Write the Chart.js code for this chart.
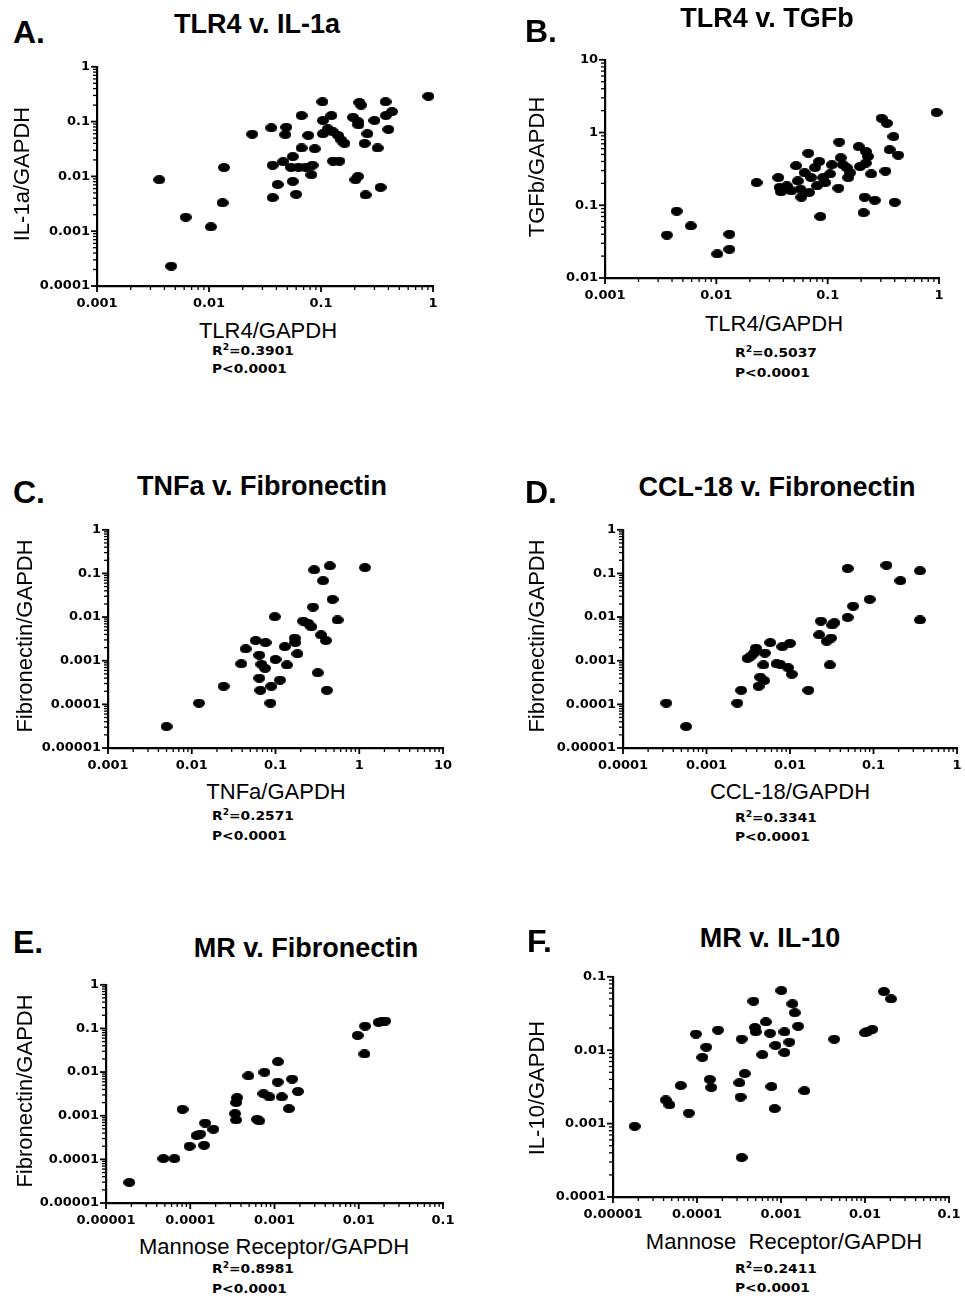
<!DOCTYPE html>
<html>
<head>
<meta charset="utf-8">
<script src="https://cdn.jsdelivr.net/npm/chart.js@4.4.1/dist/chart.umd.min.js"></script>
<style>
  html, body { margin: 0; padding: 0; background: #fff; width: 965px; height: 1298px; overflow: hidden; }
  #fig { position: relative; width: 965px; height: 1298px; overflow: hidden; }
  #fig canvas { position: absolute; }
  .t { position: absolute; white-space: pre; color: #000; font-family: "Liberation Sans", Arial, sans-serif; line-height: 1; }
  .letter { font-size: 32px; font-weight: bold; }
  .title { font-size: 27px; font-weight: bold; transform: translateX(-50%); }
  .xl { font-size: 22px; transform: translateX(-50%); }
  .yl { font-size: 22px; transform: translate(-50%, -50%) rotate(-90deg); }
  .stat { font-family: "DejaVu Sans", sans-serif; font-size: 12px; font-weight: bold; transform-origin: 0 0; transform: scaleX(1.15); }
  .stat sup { font-size: 8px; position: relative; top: -1px; vertical-align: top; line-height: 1; }
</style>
</head>
<body>
<div id="fig"></div>
<script>
// ---- A. TLR4 v. IL-1a ----
const tlr4_A = [0.0036,0.0046,0.0062,0.0104,0.0132,0.0136,0.0243,0.036,0.037,0.037,0.041,0.046,0.048,0.049,0.056,0.056,0.054,0.060,0.063,0.067,0.067,0.073,0.077,0.082,0.084,0.088,0.103,0.104,0.104,0.115,0.124,0.128,0.128,0.142,0.146,0.152,0.162,0.193,0.203,0.214,0.214,0.22,0.228,0.216,0.245,0.25,0.26,0.30,0.32,0.34,0.377,0.40,0.38,0.43,0.91];
const il1a_A = [0.0087,0.00023,0.0018,0.0012,0.0033,0.0145,0.059,0.077,0.0041,0.016,0.0071,0.0186,0.058,0.079,0.0081,0.023,0.0146,0.0047,0.0147,0.129,0.033,0.0147,0.056,0.0107,0.016,0.032,0.23,0.105,0.060,0.074,0.129,0.019,0.065,0.056,0.019,0.046,0.040,0.12,0.0087,0.10,0.010,0.224,0.20,0.087,0.040,0.0046,0.060,0.105,0.033,0.0063,0.23,0.072,0.129,0.152,0.29];
const xTicks_A = ['0.001','0.01','0.1','1'];
const yTicks_A = ['0.0001','0.001','0.01','0.1','1'];

// ---- B. TLR4 v. TGFb ----
const tlr4_B = [0.0036,0.0044,0.0059,0.0102,0.0131,0.0131,0.023,0.036,0.037,0.038,0.043,0.047,0.052,0.054,0.057,0.058,0.062,0.067,0.068,0.071,0.077,0.080,0.084,0.086,0.091,0.095,0.105,0.109,0.125,0.127,0.131,0.137,0.148,0.153,0.159,0.19,0.195,0.21,0.215,0.22,0.22,0.23,0.246,0.265,0.305,0.33,0.34,0.39,0.36,0.40,0.43,0.95];
const tgfb_B = [0.039,0.083,0.052,0.0214,0.0248,0.040,0.205,0.24,0.176,0.153,0.185,0.158,0.35,0.216,0.167,0.129,0.28,0.52,0.150,0.24,0.33,0.185,0.40,0.070,0.24,0.205,0.27,0.36,0.172,0.74,0.45,0.36,0.33,0.24,0.28,0.64,0.34,0.079,0.129,0.38,0.55,0.47,0.27,0.117,1.57,0.295,1.34,0.88,0.58,0.110,0.49,1.89];
const xTicks_B = ['0.001','0.01','0.1','1'];
const yTicks_B = ['0.01','0.1','1','10'];

// ---- C. TNFa v. Fibronectin ----
const tnfa_C = [0.0050,0.0122,0.024,0.039,0.044,0.058,0.064,0.064,0.066,0.068,0.075,0.076,0.087,0.089,0.098,0.100,0.113,0.129,0.137,0.170,0.172,0.183,0.214,0.245,0.268,0.28,0.29,0.32,0.35,0.37,0.40,0.41,0.445,0.48,0.55,1.17];
const fn_C = [0.000031,0.000107,0.00026,0.00085,0.00187,0.0029,0.00134,0.00040,0.00021,0.00083,0.00067,0.0026,0.000107,0.00026,0.0102,0.00107,0.00036,0.0021,0.00080,0.0033,0.0026,0.00144,0.0081,0.0072,0.0060,0.017,0.121,0.00053,0.0039,0.068,0.0029,0.00021,0.149,0.0255,0.0086,0.136];
const xTicks_C = ['0.001','0.01','0.1','1','10'];
const yTicks_C = ['0.00001','0.0001','0.001','0.01','0.1','1'];

// ---- D. CCL-18 v. Fibronectin ----
const ccl18_D = [0.00033,0.00057,0.00234,0.0026,0.0031,0.0034,0.0037,0.0039,0.0042,0.0044,0.0048,0.0049,0.0050,0.0058,0.0069,0.0076,0.0081,0.0095,0.010,0.0105,0.0166,0.0224,0.0234,0.0275,0.030,0.031,0.032,0.034,0.049,0.049,0.057,0.090,0.143,0.21,0.36,0.36];
const fn_D = [0.000107,0.000031,0.000107,0.00021,0.00113,0.00128,0.0015,0.00195,0.00026,0.00042,0.00080,0.00035,0.0015,0.0026,0.00085,0.00083,0.0021,0.00069,0.0025,0.00049,0.00021,0.0039,0.0081,0.0028,0.00080,0.0033,0.0066,0.0074,0.0098,0.130,0.0178,0.0255,0.154,0.068,0.115,0.0086];
const xTicks_D = ['0.0001','0.001','0.01','0.1','1'];
const yTicks_D = ['0.00001','0.0001','0.001','0.01','0.1','1'];

// ---- E. MR v. Fibronectin ----
const mr_E = [0.0000189,0.000048,0.000065,0.000081,0.000098,0.000119,0.000131,0.000146,0.00015,0.000188,0.00034,0.00035,0.00035,0.00036,0.00049,0.00062,0.00066,0.00074,0.00076,0.00087,0.00109,0.0011,0.00122,0.00148,0.00162,0.0019,0.0097,0.0117,0.0119,0.0172,0.0186,0.0206];
const fn_E = [0.0000296,0.000104,0.000104,0.0014,0.00020,0.00035,0.00038,0.00021,0.00068,0.00049,0.00112,0.0008,0.0020,0.0026,0.0082,0.00083,0.00076,0.0032,0.0099,0.0027,0.0059,0.0173,0.0027,0.00145,0.0069,0.0036,0.069,0.026,0.113,0.138,0.144,0.148];
const xTicks_E = ['0.00001','0.0001','0.001','0.01','0.1'];
const yTicks_E = ['0.00001','0.0001','0.001','0.01','0.1','1'];

// ---- F. MR v. IL-10 ----
const mr_F = [0.0000181,0.0000425,0.000047,0.000064,0.00008,0.000097,0.000116,0.000129,0.000142,0.000148,0.000178,0.00032,0.00033,0.00034,0.00034,0.00037,0.00047,0.00049,0.0005,0.00060,0.00066,0.00074,0.00077,0.00084,0.00086,0.00101,0.0011,0.0011,0.00126,0.00137,0.00146,0.0016,0.0019,0.0043,0.0100,0.0109,0.0122,0.0168,0.0204];
const il10_F = [0.00092,0.0021,0.0018,0.0033,0.00139,0.0166,0.0080,0.011,0.0040,0.0031,0.0188,0.0036,0.0023,0.0142,0.000345,0.0048,0.0466,0.0204,0.0178,0.0087,0.0243,0.0170,0.0032,0.0016,0.0116,0.065,0.0178,0.0093,0.0129,0.0428,0.0324,0.0212,0.0028,0.0141,0.0173,0.0182,0.0192,0.063,0.050];
const xTicks_F = ['0.00001','0.0001','0.001','0.01','0.1'];
const yTicks_F = ['0.0001','0.001','0.01','0.1'];

const fig = document.getElementById('fig');

// Filled, slightly wide dot used for every data point
const marker = document.createElement('canvas');
marker.width = 12; marker.height = 9;
(function () {
  const m = marker.getContext('2d');
  m.fillStyle = '#000';
  m.beginPath();
  m.ellipse(6, 4.5, 6, 4.5, 0, 0, Math.PI * 2);
  m.fill();
})();

// Decade ticks plus the 2..9 minor ticks between them
function buildLogTicks(decades) {
  const out = [];
  decades.forEach((d, i) => {
    out.push({ value: d, major: true });
    if (i < decades.length - 1) {
      for (let m = 2; m <= 9; m++) out.push({ value: +(d * m).toPrecision(6), major: false });
    }
  });
  return out;
}

// Outward tick marks: long at decades, short in between
const tickMarks = {
  id: 'tickMarks',
  afterDraw(chart) {
    const ctx = chart.ctx;
    const xs = chart.scales.x, ys = chart.scales.y;
    ctx.save();
    ctx.strokeStyle = '#000';
    xs.ticks.forEach(t => {
      const px = xs.getPixelForValue(t.value);
      ctx.lineWidth = t.major ? 1.8 : 1.3;
      ctx.beginPath();
      ctx.moveTo(px, xs.top);
      ctx.lineTo(px, xs.top + (t.major ? 6 : 4));
      ctx.stroke();
    });
    ys.ticks.forEach(t => {
      const py = ys.getPixelForValue(t.value);
      ctx.lineWidth = t.major ? 1.8 : 1.3;
      ctx.beginPath();
      ctx.moveTo(ys.right, py);
      ctx.lineTo(ys.right - (t.major ? 6 : 4), py);
      ctx.stroke();
    });
    ctx.restore();
  }
};

function logAxis(labels, axis, size) {
  const decades = labels.map(Number);
  return {
    type: 'logarithmic',
    position: axis === 'x' ? 'bottom' : 'left',
    min: decades[0],
    max: decades[decades.length - 1],
    grid: { display: false, drawTicks: false, tickLength: 0 },
    border: { display: true, color: '#000', width: 2.2 },
    ticks: {
      autoSkip: false, maxRotation: 0, minRotation: 0,
      color: '#000',
      padding: axis === 'x' ? 10 : 7,
      font: { family: "'DejaVu Sans', sans-serif", size: 13, weight: 'bold' },
      callback: (v, i, ticks) => {
        if (!ticks[i].major) return '';
        const k = decades.indexOf(v);
        return k >= 0 ? labels[k] : '';
      }
    },
    afterBuildTicks: s => { s.ticks = buildLogTicks(decades); },
    afterFit: s => { if (axis === 'x') s.height = size; else s.width = size; }
  };
}

function makePanel(p) {
  // W: room for the y axis, H: room for the x axis, PT/PR: margins above and right
  const W = 80, H = 30, PT = 12, PR = 26;
  const a = p.area;
  const w = W + (a.r - a.l) + PR;
  const h = PT + (a.b - a.t) + H;
  const cv = document.createElement('canvas');
  cv.width = w; cv.height = h;
  cv.style.left = (a.l - W) + 'px';
  cv.style.top = (a.t - PT) + 'px';
  cv.style.width = w + 'px';
  cv.style.height = h + 'px';
  fig.appendChild(cv);
  new Chart(cv, {
    type: 'scatter',
    data: {
      datasets: [{
        data: p.xs.map((v, i) => ({ x: v, y: p.ys[i] })),
        pointStyle: marker,
        pointRadius: 5,
        backgroundColor: '#000',
        borderColor: '#000',
        clip: false
      }]
    },
    options: {
      responsive: false,
      animation: false,
      events: [],
      layout: { padding: { top: PT, right: PR, left: 0, bottom: 0 } },
      plugins: { legend: { display: false }, tooltip: { enabled: false } },
      scales: {
        x: logAxis(p.xTicks, 'x', H),
        y: logAxis(p.yTicks, 'y', W)
      }
    },
    plugins: [tickMarks]
  });
}

const panels = [
  { xs: tlr4_A,  ys: il1a_A, xTicks: xTicks_A, yTicks: yTicks_A, area: { l: 97,  r: 433, t: 64,  b: 286 } },
  { xs: tlr4_B,  ys: tgfb_B, xTicks: xTicks_B, yTicks: yTicks_B, area: { l: 605, r: 939, t: 57,  b: 278 } },
  { xs: tnfa_C,  ys: fn_C,   xTicks: xTicks_C, yTicks: yTicks_C, area: { l: 108, r: 443, t: 527, b: 748 } },
  { xs: ccl18_D, ys: fn_D,   xTicks: xTicks_D, yTicks: yTicks_D, area: { l: 623, r: 957, t: 527, b: 748 } },
  { xs: mr_E,    ys: fn_E,   xTicks: xTicks_E, yTicks: yTicks_E, area: { l: 106, r: 443, t: 982, b: 1203 } },
  { xs: mr_F,    ys: il10_F, xTicks: xTicks_F, yTicks: yTicks_F, area: { l: 613, r: 949, t: 974, b: 1197 } }
];
panels.forEach(makePanel);

// Panel letters, titles, axis titles and regression statistics
const sizes = { letter: 32, title: 27, xl: 22, stat: 12 };
const texts = [
  { c: 'letter', s: 'A.', x: 13,  b: 43 },
  { c: 'title',  s: 'TLR4 v. IL-1a', x: 257, b: 34 },
  { c: 'yl',     s: 'IL-1a/GAPDH', x: 22, y: 174 },
  { c: 'xl',     s: 'TLR4/GAPDH', x: 268, b: 339 },
  { c: 'stat',   h: 'R<sup>2</sup>=0.3901', x: 212, b: 355 },
  { c: 'stat',   s: 'P<0.0001', x: 212, b: 373 },

  { c: 'letter', s: 'B.', x: 525, b: 42 },
  { c: 'title',  s: 'TLR4 v. TGFb', x: 767, b: 28 },
  { c: 'yl',     s: 'TGFb/GAPDH', x: 537, y: 167 },
  { c: 'xl',     s: 'TLR4/GAPDH', x: 774, b: 332 },
  { c: 'stat',   h: 'R<sup>2</sup>=0.5037', x: 735, b: 357 },
  { c: 'stat',   s: 'P<0.0001', x: 735, b: 377 },

  { c: 'letter', s: 'C.', x: 13,  b: 503 },
  { c: 'title',  s: 'TNFa v. Fibronectin', x: 262, b: 496 },
  { c: 'yl',     s: 'Fibronectin/GAPDH', x: 25, y: 636 },
  { c: 'xl',     s: 'TNFa/GAPDH', x: 276, b: 800 },
  { c: 'stat',   h: 'R<sup>2</sup>=0.2571', x: 212, b: 820 },
  { c: 'stat',   s: 'P<0.0001', x: 212, b: 840 },

  { c: 'letter', s: 'D.', x: 525, b: 503 },
  { c: 'title',  s: 'CCL-18 v. Fibronectin', x: 777, b: 497 },
  { c: 'yl',     s: 'Fibronectin/GAPDH', x: 537, y: 636 },
  { c: 'xl',     s: 'CCL-18/GAPDH', x: 790, b: 800 },
  { c: 'stat',   h: 'R<sup>2</sup>=0.3341', x: 735, b: 822 },
  { c: 'stat',   s: 'P<0.0001', x: 735, b: 841 },

  { c: 'letter', s: 'E.', x: 13,  b: 953 },
  { c: 'title',  s: 'MR v. Fibronectin', x: 306, b: 958 },
  { c: 'yl',     s: 'Fibronectin/GAPDH', x: 25, y: 1091 },
  { c: 'xl',     s: 'Mannose Receptor/GAPDH', x: 274, b: 1255 },
  { c: 'stat',   h: 'R<sup>2</sup>=0.8981', x: 212, b: 1273 },
  { c: 'stat',   s: 'P<0.0001', x: 212, b: 1293 },

  { c: 'letter', s: 'F.', x: 527, b: 952 },
  { c: 'title',  s: 'MR v. IL-10', x: 770, b: 948 },
  { c: 'yl',     s: 'IL-10/GAPDH', x: 537, y: 1088 },
  { c: 'xl',     s: 'Mannose  Receptor/GAPDH', x: 784, b: 1250 },
  { c: 'stat',   h: 'R<sup>2</sup>=0.2411', x: 735, b: 1273 },
  { c: 'stat',   s: 'P<0.0001', x: 735, b: 1292 }
];

texts.forEach(t => {
  const d = document.createElement('div');
  d.className = 't ' + t.c;
  if (t.h) d.innerHTML = t.h; else d.textContent = t.s;
  d.style.left = t.x + 'px';
  if (t.c === 'yl') {
    d.style.top = t.y + 'px';
  } else {
    d.style.top = (t.b - 0.846 * sizes[t.c]) + 'px';
  }
  fig.appendChild(d);
});
</script>
</body>
</html>
